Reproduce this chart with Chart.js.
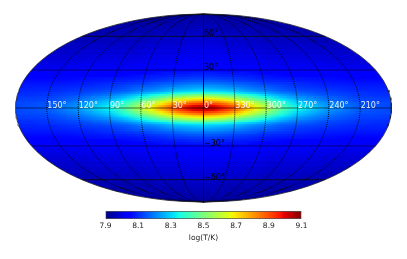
<!DOCTYPE html>
<html>
<head>
<meta charset="utf-8">
<style>
body{margin:0;background:#fff;width:407px;height:259px;overflow:hidden;position:relative}
canvas{position:absolute;left:0;display:block}
</style>
<script src="https://cdn.jsdelivr.net/npm/chart.js@4"></script>
</head>
<body>
<canvas id="mapa" width="407" height="259" style="top:0"></canvas>
<canvas id="barra" width="407" height="50" style="top:205px"></canvas>
<script>
// log(T/K), one quadrant (the sky map is symmetric)
const lons = [0,10,20,30,40,50,60,75,90,120,150,180];
const lats = [0,1.4,2.8,4.2,5.6,7,8.5,9.9,11.3,12.7,14.1,15.5,17,19,21,23,25,27,30,33,36,40,45,50,55,60,65,70,75,80,90];
const logT = [
[9.05,9.02,8.96,8.88,8.78,8.68,8.58,8.44,8.34,8.22,8.15,8.13],
[9.02,8.99,8.93,8.86,8.76,8.66,8.57,8.43,8.33,8.22,8.15,8.13],
[8.94,8.91,8.86,8.79,8.70,8.61,8.53,8.40,8.31,8.21,8.15,8.13],
[8.86,8.84,8.79,8.73,8.65,8.57,8.49,8.37,8.29,8.20,8.14,8.13],
[8.77,8.75,8.71,8.65,8.58,8.51,8.44,8.34,8.27,8.18,8.13,8.12],
[8.68,8.66,8.62,8.58,8.51,8.45,8.39,8.30,8.24,8.17,8.13,8.12],
[8.59,8.57,8.54,8.50,8.45,8.40,8.34,8.27,8.22,8.16,8.12,8.11],
[8.49,8.48,8.45,8.42,8.38,8.34,8.29,8.24,8.19,8.14,8.11,8.10],
[8.40,8.39,8.37,8.34,8.31,8.28,8.25,8.20,8.17,8.13,8.11,8.10],
[8.32,8.31,8.30,8.28,8.25,8.23,8.21,8.17,8.15,8.12,8.10,8.09],
[8.28,8.27,8.26,8.25,8.22,8.20,8.18,8.15,8.13,8.11,8.09,8.09],
[8.25,8.24,8.23,8.22,8.20,8.18,8.17,8.14,8.12,8.10,8.09,8.08],
[8.22,8.22,8.21,8.19,8.18,8.16,8.15,8.13,8.11,8.09,8.08,8.08],
[8.18,8.18,8.17,8.16,8.15,8.14,8.12,8.11,8.10,8.08,8.07,8.07],
[8.15,8.15,8.14,8.13,8.12,8.11,8.10,8.09,8.08,8.07,8.06,8.06],
[8.12,8.12,8.11,8.11,8.10,8.09,8.08,8.07,8.07,8.06,8.05,8.05],
[8.10,8.10,8.09,8.09,8.08,8.08,8.07,8.06,8.05,8.05,8.04,8.04],
[8.08,8.08,8.07,8.07,8.07,8.06,8.05,8.05,8.04,8.04,8.03,8.03],
[8.05,8.05,8.05,8.05,8.04,8.04,8.04,8.03,8.03,8.03,8.02,8.02],
[8.04,8.04,8.04,8.03,8.03,8.03,8.03,8.02,8.02,8.02,8.01,8.01],
[8.03,8.03,8.03,8.02,8.02,8.02,8.02,8.01,8.01,8.01,8.00,8.00],
[8.02,8.02,8.02,8.01,8.01,8.01,8.01,8.00,8.00,8.00,7.99,7.99],
[8.01,8.01,8.01,8.00,8.00,8.00,8.00,7.99,7.99,7.99,7.98,7.98],
[8.00,8.00,8.00,7.99,7.99,7.99,7.99,7.98,7.98,7.98,7.97,7.97],
[7.99,7.99,7.99,7.98,7.98,7.98,7.98,7.97,7.97,7.97,7.96,7.96],
[7.98,7.98,7.98,7.97,7.97,7.97,7.97,7.96,7.96,7.96,7.95,7.95],
[7.97,7.97,7.97,7.96,7.96,7.96,7.96,7.96,7.95,7.95,7.95,7.95],
[7.96,7.96,7.96,7.96,7.95,7.95,7.95,7.95,7.95,7.94,7.94,7.94],
[7.95,7.95,7.95,7.95,7.95,7.94,7.94,7.94,7.94,7.94,7.94,7.94],
[7.94,7.94,7.94,7.94,7.94,7.94,7.94,7.94,7.94,7.94,7.94,7.94],
[7.93,7.93,7.93,7.93,7.93,7.93,7.93,7.93,7.93,7.93,7.93,7.93]
];
const lonTicks = [150,120,90,60,30,0,330,300,270,240,210];
const latTicks = [60,30,-30,-60];
const cbarTicks = [7.9,8.1,8.3,8.5,8.7,8.9,9.1];
const cbarLabel = "log(T/K)";
const vMin = 7.9, vMax = 9.1;

// jet colormap breakpoints
const jetPos = [0,0.11,0.125,0.34,0.35,0.375,0.64,0.65,0.66,0.89,0.91,1];
const jetR = [0,0,0,0,0,0.08,0.92,0.96,1,1,0.91,0.5];
const jetG = [0,0,0,0.86,0.9,1,1,0.96,0.92,0.1,0,0];
const jetB = [0.5,1,1,1,0.97,0.9,0.03,0,0,0,0,0];

function lerp(xs,ys,t){
    for(let i=1;i<xs.length;i++){
        if(t<=xs[i]) return ys[i-1]+(ys[i]-ys[i-1])*(t-xs[i-1])/(xs[i]-xs[i-1]);
    }
    return ys[ys.length-1];
}
function jet(t){
    t = Math.max(0,Math.min(1,t));
    return "rgb("+Math.round(255*lerp(jetPos,jetR,t))+","+Math.round(255*lerp(jetPos,jetG,t))+","+Math.round(255*lerp(jetPos,jetB,t))+")";
}
function colorDe(v){ return jet((v-vMin)/(vMax-vMin)); }

// mollweide
function theta(lat){
    const phi = lat*Math.PI/180;
    if(Math.abs(lat)>=90) return Math.sign(lat)*Math.PI/2;
    let t = phi;
    for(let k=0;k<30;k++){
        t -= (2*t+Math.sin(2*t)-Math.PI*Math.sin(phi))/(2+2*Math.cos(2*t));
    }
    return t;
}
const RX = 2*Math.SQRT2, RY = Math.SQRT2;
function moll(lon,lat){
    const t = theta(lat);
    return {x:-RX*lon/180*Math.cos(t), y:RY*Math.sin(t)};
}

// one dataset per latitude row, drawn as a thick line with a gradient along it
const filas = [];
lats.forEach((lat,i)=>{
    (lat===0 ? [1] : [1,-1]).forEach(sign=>{
        // use the inner edge of the band for the width so the ellipse stays covered
        const inner = i>0 ? (lats[i-1]+lat)/2 : 0;
        const tIn = theta(inner);
        const datos = [], vals = [];
        for(let j=lons.length-1;j>0;j--){ datos.push({x:-RX*lons[j]/180*Math.cos(tIn),y:moll(0,sign*lat).y}); vals.push(logT[i][j]); }
        for(let j=0;j<lons.length;j++){ datos.push({x:RX*lons[j]/180*Math.cos(tIn),y:moll(0,sign*lat).y}); vals.push(logT[i][j]); }
        filas.push({
            data:datos,
            esFila:true,
            order:10+i,
            showLine:true,
            pointRadius:0,
            borderCapStyle:"butt",
            borderWidth:(ctx)=>{
                const ys = ctx.chart.scales.y;
                if(!ys) return 2;
                const a = i>0 ? Math.abs(ys.getPixelForValue(moll(0,lats[i-1]).y)-ys.getPixelForValue(moll(0,lat).y)) : 0;
                const b = i<lats.length-1 ? Math.abs(ys.getPixelForValue(moll(0,lats[i+1]).y)-ys.getPixelForValue(moll(0,lat).y)) : a;
                return Math.max(a,b)+0.8;
            },
            borderColor:(ctx)=>{
                const xs = ctx.chart.scales.x;
                if(!xs || !ctx.chart.chartArea) return colorDe(vals[0]);
                const x0 = xs.getPixelForValue(datos[0].x), x1 = xs.getPixelForValue(datos[datos.length-1].x);
                const g = ctx.chart.ctx.createLinearGradient(x0,0,x1,0);
                datos.forEach((d,k)=>{
                    g.addColorStop(Math.max(0,Math.min(1,(xs.getPixelForValue(d.x)-x0)/(x1-x0))),colorDe(vals[k]));
                });
                return g;
            }
        });
    });
});

// graticule
function meridiano(lon,color,ancho,dash){
    const d = [];
    for(let la=-90;la<=90;la+=3) d.push(moll(lon,la));
    return {data:d,order:1,showLine:true,pointRadius:0,borderColor:color,borderWidth:ancho,borderDash:dash,clip:false};
}
function paralelo(lat,color,ancho,dash){
    const d = [];
    for(let lo=-180;lo<=180;lo+=6) d.push(moll(lo,lat));
    return {data:d,order:1,showLine:true,pointRadius:0,borderColor:color,borderWidth:ancho,borderDash:dash,clip:false};
}
const red = [];
lonTicks.forEach(l=>{
    if(l!==0) red.push(meridiano(l>180?l-360:l,"rgba(0,0,0,0.85)",1,[1,1]));
});
latTicks.forEach(l=>red.push(paralelo(l,"rgba(0,0,0,0.9)",1,[1,1])));
red.push(paralelo(0,"rgba(0,0,0,0.55)",1.2,[]));
red.push(meridiano(0,"#000",1,[]));

// outline
const borde = [];
for(let la=-90;la<=90;la+=2) borde.push(moll(180,la));
for(let la=90;la>=-90;la-=2) borde.push(moll(-180,la));
red.push({data:borde,order:0,showLine:true,pointRadius:0,borderColor:"#222",borderWidth:0.8,clip:false});

const recorte = {
    id:"recorte",
    beforeDatasetDraw(chart,args){
        if(!chart.data.datasets[args.index].esFila) return;
        const xs = chart.scales.x, ys = chart.scales.y, c = chart.ctx;
        c.save();
        c.beginPath();
        c.ellipse(xs.getPixelForValue(0),ys.getPixelForValue(0),(xs.right-xs.left)/2,(ys.bottom-ys.top)/2,0,0,2*Math.PI);
        c.clip();
    },
    afterDatasetDraw(chart,args){
        if(chart.data.datasets[args.index].esFila) chart.ctx.restore();
    }
};
const etiquetas = {
    id:"etiquetas",
    afterDatasetsDraw(chart){
        const xs = chart.scales.x, ys = chart.scales.y, c = chart.ctx;
        c.save();
        c.font = "8px 'DejaVu Sans'";
        c.textAlign = "left";
        c.textBaseline = "alphabetic";
        c.fillStyle = "rgba(255,255,255,0.9)";
        lonTicks.forEach(l=>{
            const p = moll(l>180?l-360:l,0);
            c.fillText(l+"°",xs.getPixelForValue(p.x)+0.5,ys.getPixelForValue(0));
        });
        c.fillStyle = "#000";
        latTicks.forEach(l=>{
            const p = moll(0,l);
            c.fillText((l<0?"\u2212":"")+Math.abs(l)+"°",xs.getPixelForValue(0)+0.5,ys.getPixelForValue(p.y));
        });
        c.restore();
    }
};

new Chart(document.getElementById("mapa").getContext("2d"),{
    type:"scatter",
    data:{datasets:filas.concat(red)},
    options:{
        responsive:false,
        animation:false,
        layout:{padding:{left:15.5,right:15.5,top:14,bottom:57}},
        plugins:{legend:{display:false},tooltip:{enabled:false}},
        elements:{line:{tension:0}},
        scales:{
            x:{type:"linear",min:-RX,max:RX,display:false},
            y:{type:"linear",min:-RY,max:RY,display:false}
        }
    },
    plugins:[recorte,etiquetas]
});

// colorbar
new Chart(document.getElementById("barra").getContext("2d"),{
    type:"bar",
    data:{
        labels:[cbarLabel],
        datasets:[{
            data:[[vMin,vMax]],
            barPercentage:1,
            categoryPercentage:1,
            borderWidth:1,
            borderColor:"#555",
            borderSkipped:false,
            backgroundColor:(ctx)=>{
                const xs = ctx.chart.scales.x;
                if(!xs || !ctx.chart.chartArea) return "#00f";
                const g = ctx.chart.ctx.createLinearGradient(xs.left,0,xs.right,0);
                jetPos.forEach(p=>g.addColorStop(p,jet(p)));
                return g;
            }
        }]
    },
    options:{
        indexAxis:"y",
        responsive:false,
        animation:false,
        layout:{padding:{left:105.5,right:105.5,top:6,bottom:12}},
        plugins:{legend:{display:false},tooltip:{enabled:false}},
        scales:{
            y:{display:false},
            x:{
                type:"linear",min:vMin,max:vMax,
                afterBuildTicks:(s)=>{ s.ticks = cbarTicks.map(v=>({value:v})); },
                afterFit:(s)=>{ s.height = 24; },
                grid:{display:false,drawTicks:false},
                border:{display:false},
                ticks:{
                    autoSkip:false,maxRotation:0,padding:3,color:"#222",
                    font:{family:"'DejaVu Sans'",size:7.5},
                    callback:(v)=>Number(v).toFixed(1)
                },
                title:{display:true,text:cbarLabel,color:"#222",font:{family:"'DejaVu Sans'",size:7.5},padding:{top:2,bottom:0}}
            }
        }
    }
});
</script>
</body>
</html>
